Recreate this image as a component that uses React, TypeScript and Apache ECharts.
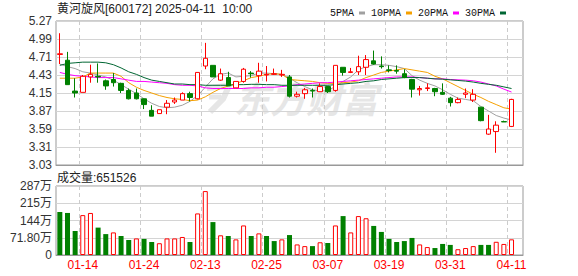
import { useEffect, useRef } from 'react';
import * as echarts from 'echarts';

const dates = [
  '01-09', '01-10', '01-13', '01-14', '01-15', '01-16', '01-17', '01-20', '01-21', '01-22',
  '01-23', '01-24', '01-27', '02-05', '02-06', '02-07', '02-10', '02-11', '02-12', '02-13',
  '02-14', '02-17', '02-18', '02-19', '02-20', '02-21', '02-24', '02-25', '02-26', '02-27',
  '02-28', '03-03', '03-04', '03-05', '03-06', '03-07', '03-10', '03-11', '03-12', '03-13',
  '03-14', '03-17', '03-18', '03-19', '03-20', '03-21', '03-24', '03-25', '03-26', '03-27',
  '03-28', '03-31', '04-01', '04-02', '04-03', '04-07', '04-08', '04-09', '04-10', '04-11',
];

// [open, close, low, high]
const ohlc: number[][] = [
  [4.75, 4.76, 4.60, 5.08], [4.66, 4.28, 4.28, 4.79], [4.18, 4.15, 4.08, 4.38], [4.16, 4.41, 4.16, 4.43],
  [4.40, 4.44, 4.31, 4.59], [4.41, 4.40, 4.31, 4.61], [4.34, 4.26, 4.20, 4.36], [4.36, 4.31, 4.25, 4.46],
  [4.30, 4.19, 4.15, 4.31], [4.19, 4.06, 4.05, 4.22], [4.15, 4.06, 4.05, 4.22], [4.06, 3.97, 3.90, 4.06],
  [3.88, 3.79, 3.79, 3.96], [3.83, 3.89, 3.83, 3.89], [3.93, 3.99, 3.82, 4.04], [4.01, 4.04, 3.98, 4.08],
  [4.04, 4.14, 4.04, 4.16], [4.14, 4.08, 4.02, 4.17], [4.06, 4.47, 4.05, 4.47], [4.57, 4.69, 4.52, 4.93],
  [4.58, 4.40, 4.40, 4.58], [4.35, 4.45, 4.34, 4.53], [4.39, 4.26, 4.26, 4.48], [4.23, 4.33, 4.23, 4.33],
  [4.33, 4.52, 4.31, 4.54], [4.46, 4.45, 4.39, 4.49], [4.42, 4.49, 4.31, 4.62], [4.43, 4.44, 4.33, 4.57],
  [4.44, 4.45, 4.43, 4.53], [4.43, 4.44, 4.40, 4.51], [4.40, 4.10, 4.08, 4.43], [4.10, 4.13, 4.08, 4.17],
  [4.14, 4.20, 4.06, 4.23], [4.19, 4.18, 4.08, 4.22], [4.17, 4.25, 4.17, 4.30], [4.25, 4.17, 4.15, 4.26],
  [4.19, 4.58, 4.17, 4.58], [4.55, 4.47, 4.42, 4.55], [4.47, 4.48, 4.46, 4.54], [4.48, 4.56, 4.43, 4.73],
  [4.55, 4.67, 4.43, 4.74], [4.65, 4.60, 4.59, 4.81], [4.57, 4.56, 4.53, 4.72], [4.51, 4.50, 4.47, 4.58],
  [4.50, 4.49, 4.45, 4.58], [4.45, 4.39, 4.38, 4.52], [4.36, 4.21, 4.08, 4.37], [4.20, 4.22, 4.11, 4.26],
  [4.22, 4.23, 4.18, 4.30], [4.22, 4.17, 4.10, 4.23], [4.16, 4.13, 4.12, 4.30], [4.07, 4.00, 3.94, 4.09],
  [4.00, 4.05, 3.99, 4.08], [4.13, 4.15, 4.07, 4.22], [4.04, 4.13, 4.01, 4.21], [3.93, 3.72, 3.71, 3.93],
  [3.51, 3.59, 3.50, 3.81], [3.55, 3.65, 3.22, 3.71], [3.705, 3.70, 3.70, 3.72], [3.63, 4.05, 3.62, 4.06],
];

// volume in 万 (10k shares)
const volumes = [
  179, 175, 100, 166, 175, 114, 87, 94, 79, 62,
  69, 67, 54, 49, 69, 69, 75, 54, 173, 266,
  137, 82, 79, 65, 123, 79, 90, 79, 58, 65,
  83, 44, 37, 37, 53, 50, 123, 162, 94, 162,
  153, 121, 96, 67, 54, 58, 71, 44, 33, 29,
  46, 42, 24, 29, 37, 42, 42, 55, 46, 65.15,
];
// 1 = red (up), 0 = green (down)
const volumeUp = [
  0, 0, 0, 1, 1, 0, 0, 1, 0, 0,
  1, 0, 0, 1, 1, 1, 1, 0, 1, 1,
  0, 1, 0, 1, 1, 0, 1, 0, 0, 1,
  0, 1, 1, 0, 1, 0, 1, 0, 1, 1,
  1, 0, 0, 0, 0, 0, 0, 1, 1, 0,
  0, 0, 1, 1, 1, 0, 0, 1, 1, 1,
];

const ma5 = [
  4.60, 4.56, 4.53, 4.48, 4.46, 4.43, 4.40, 4.35, 4.28, 4.21,
  4.14, 4.06, 3.99, 3.94, 3.92, 3.93, 3.96, 4.02, 4.11, 4.24,
  4.37, 4.44, 4.46, 4.40, 4.41, 4.42, 4.46, 4.46, 4.45, 4.44,
  4.38, 4.31, 4.25, 4.20, 4.18, 4.19, 4.25, 4.33, 4.40, 4.51,
  4.56, 4.59, 4.59, 4.58, 4.56, 4.53, 4.42, 4.35, 4.30, 4.26,
  4.20, 4.13, 4.07, 4.05, 4.03, 3.94, 3.87, 3.80, 3.76, 3.73,
];
const ma10 = [
  4.38, 4.38, 4.38, 4.40, 4.46, 4.46, 4.46, 4.46, 4.41, 4.31,
  4.24, 4.19, 4.15, 4.11, 4.08, 4.06, 4.05, 4.03, 4.04, 4.09,
  4.16, 4.22, 4.26, 4.30, 4.34, 4.39, 4.41, 4.44, 4.45, 4.44,
  4.36, 4.35, 4.34, 4.33, 4.31, 4.30, 4.30, 4.31, 4.32, 4.34,
  4.39, 4.43, 4.47, 4.49, 4.51, 4.53, 4.51, 4.49, 4.47, 4.41,
  4.37, 4.31, 4.25, 4.19, 4.13, 4.08, 4.02, 3.97, 3.92, 3.90,
];
const ma20 = [
  4.47, 4.44, 4.42, 4.41, 4.40, 4.39, 4.39, 4.39, 4.37, 4.35,
  4.33, 4.33, 4.32, 4.31, 4.30, 4.28, 4.27, 4.27, 4.26, 4.23,
  4.22, 4.22, 4.22, 4.22, 4.22, 4.23, 4.23, 4.24, 4.24, 4.25,
  4.26, 4.28, 4.29, 4.30, 4.31, 4.31, 4.32, 4.33, 4.34, 4.35,
  4.36, 4.37, 4.38, 4.39, 4.40, 4.40, 4.40, 4.39, 4.38, 4.37,
  4.37, 4.36, 4.355, 4.35, 4.34, 4.32, 4.29, 4.26, 4.21, 4.165,
];
const ma30 = [
  4.58, 4.61, 4.62, 4.63, 4.63, 4.63, 4.62, 4.59, 4.54, 4.48,
  4.44, 4.39, 4.35, 4.33, 4.31, 4.29, 4.29, 4.28, 4.28, 4.27,
  4.27, 4.27, 4.27, 4.28, 4.28, 4.285, 4.285, 4.28, 4.28, 4.27,
  4.27, 4.27, 4.27, 4.27, 4.27, 4.27, 4.28, 4.29, 4.30, 4.31,
  4.33, 4.34, 4.36, 4.37, 4.38, 4.39, 4.39, 4.39, 4.38, 4.37,
  4.365, 4.355, 4.345, 4.335, 4.32, 4.30, 4.285, 4.27, 4.245, 4.22,
];

const maNames = ['5PMA', '10PMA', '20PMA', '30PMA'];
const maColors = ['#a0a0a0', '#f5a000', '#ff00ff', '#006633'];
const volumeTickLabels = ['0', '71.80万', '144万', '215万', '287万'];
const priceMin = 3.03;
const priceMax = 5.27;
const priceStep = 0.28;
const volStep = 71.8;

const title = '黄河旋风[600172] 2025-04-11  10:00';
const volTitle = '成交量:651526';
const watermark = '东方财富';

export default function App() {
  const ref = useRef<HTMLDivElement>(null);
  useEffect(() => {
    document.body.style.margin = '0';
    if (!ref.current) return;
    const chart = echarts.init(ref.current, null, { renderer: 'svg' });
    const cats = [...dates, ''];
    const labelEvery = (idx: number) => idx < dates.length && (idx - 3) % 8 === 0;
    const font = 'Arial, "Liberation Sans", "Noto Sans CJK SC", sans-serif';
    const mas = [ma5, ma10, ma20, ma30];
    const wmColor = '#e6e6e6';
    const option: any = {
      animation: false,
      backgroundColor: '#ffffff',
      textStyle: { fontFamily: font },
      legend: {
        right: 67,
        top: 3,
        align: 'right',
        icon: 'rect',
        itemWidth: 6,
        itemHeight: 3,
        itemGap: 6,
        selectedMode: false,
        textStyle: { fontFamily: '"Liberation Mono", monospace', fontSize: 10, color: '#111' },
        data: maNames,
      },
      graphic: [
        {
          type: 'polyline', z: -10, silent: true,
          shape: { points: [[207, 88], [229, 86], [223, 99], [210, 112]] },
          style: { stroke: wmColor, lineWidth: 6, fill: null, lineJoin: 'round' },
        },
        {
          type: 'line', z: -10, silent: true,
          shape: { x1: 209, y1: 97, x2: 221, y2: 97 },
          style: { stroke: wmColor, lineWidth: 5 },
        },
        {
          type: 'text', x: 234, y: 97, z: -10, silent: true,
          style: {
            text: watermark, fontSize: 36, fontWeight: 'bold', fontStyle: 'italic',
            fill: wmColor, verticalAlign: 'middle', fontFamily: '"Noto Sans CJK SC", sans-serif',
          },
        },
        {
          type: 'text', x: 57, y: 9,
          style: { text: title, fontSize: 12, fill: '#222', verticalAlign: 'middle', fontFamily: font },
        },
        {
          type: 'text', x: 57, y: 178,
          style: { text: volTitle, fontSize: 12, fill: '#222', verticalAlign: 'middle', fontFamily: font },
        },
      ],
      grid: [
        { left: 56, top: 21, width: 467, height: 144, show: true, borderColor: '#999', borderWidth: 1 },
        { left: 56, top: 186, width: 467, height: 69, show: true, borderColor: '#999', borderWidth: 1 },
      ],
      xAxis: [
        {
          type: 'category', gridIndex: 0, data: cats, boundaryGap: true,
          axisLine: { show: true, lineStyle: { color: '#999' } },
          axisTick: { show: false }, axisLabel: { show: false },
          splitLine: { show: true, interval: labelEvery, lineStyle: { color: '#cccccc', type: [4, 3] } },
        },
        {
          type: 'category', gridIndex: 1, data: cats, boundaryGap: true,
          axisLine: { show: true, lineStyle: { color: '#999' } },
          axisTick: { show: false },
          axisLabel: { show: true, interval: labelEvery, color: '#ff0000', fontSize: 12, margin: 4, fontFamily: font },
          splitLine: { show: true, interval: labelEvery, lineStyle: { color: '#cccccc', type: [4, 3] } },
        },
      ],
      yAxis: [
        {
          type: 'value', gridIndex: 0, min: priceMin, max: priceMax, interval: priceStep, scale: true,
          axisLine: { show: false }, axisTick: { show: false },
          axisLabel: { color: '#333', fontSize: 12, margin: 4, formatter: (v: number) => v.toFixed(2) },
          splitLine: { show: true, lineStyle: { color: '#d4d4d4' } },
        },
        {
          type: 'value', gridIndex: 1, min: 0, max: volStep * 4, interval: volStep,
          axisLine: { show: false }, axisTick: { show: false },
          axisLabel: { color: '#333', fontSize: 12, margin: 4, formatter: (v: number) => volumeTickLabels[Math.round(v / volStep)] ?? '' },
          splitLine: { show: true, lineStyle: { color: '#d4d4d4' } },
        },
      ],
      series: [
        ...maNames.map((name, i) => ({
          name, type: 'line', xAxisIndex: 0, yAxisIndex: 0, data: mas[i],
          showSymbol: false, symbol: 'none', color: maColors[i],
          lineStyle: { width: 1, color: maColors[i] }, z: 2,
        })),
        {
          name: 'K', type: 'candlestick', xAxisIndex: 0, yAxisIndex: 0, data: ohlc,
          barWidth: 5, z: 3,
          itemStyle: { color: '#ffffff', color0: '#008000', borderColor: '#ff0000', borderColor0: '#008000', borderWidth: 1 },
        },
        {
          name: 'VOL', type: 'bar', xAxisIndex: 1, yAxisIndex: 1, barWidth: 5,
          data: volumes.map((v, i) => ({
            value: v,
            itemStyle: volumeUp[i]
              ? { color: '#ffffff', borderColor: '#ff0000', borderWidth: 1 }
              : { color: '#008000', borderColor: '#008000', borderWidth: 0 },
          })),
        },
      ],
    };
    chart.setOption(option);
    return () => chart.dispose();
  }, []);
  return <div ref={ref} style={{ width: 578, height: 276 }} />;
}
